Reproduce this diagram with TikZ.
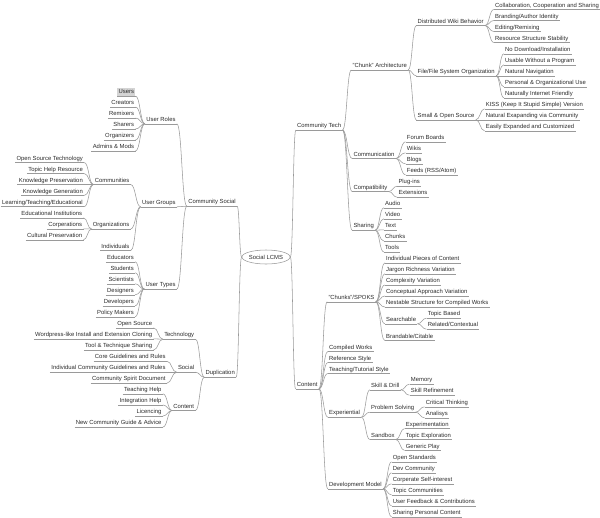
\documentclass[tikz,border=0pt]{standalone}
\usepackage{fontspec}
\setmainfont{Liberation Sans}
\usetikzlibrary{calc,shapes.geometric}
\definecolor{txt}{HTML}{2B2B2B}
\definecolor{lnc}{HTML}{9A9A9A}
\newcommand\myR[4]{\node[rnd] (#1) at ({#2-1.2},{#3+4.5}) {#4};}
\newcommand\myL[4]{\node[lnd] (#1) at ({#2+1.2},{#3+4.5}) {#4};}
\begin{document}
\begin{tikzpicture}[x=1pt,y=-1pt,
  every node/.style={font=\fontsize{5.9}{6}\selectfont, text=txt},
  uline/.style={draw=lnc, line width=0.55pt},
  conn/.style={draw=lnc, line width=0.55pt},
  basend/.style={inner xsep=1.2pt, inner ysep=1pt, text height=4.4pt, text depth=1.25pt,
     append after command={(\tikzlastnode.south west) edge[uline] (\tikzlastnode.south east)}},
  rnd/.style={basend, anchor=south west},
  lnd/.style={basend, anchor=south east},
  mmcurve/.style={to path={let \p1=(\tikztostart), \p2=(\tikztotarget) in
     .. controls ({0.5*\x1+0.5*\x2},\y1) and ({0.5*\x1+0.5*\x2},\y2) .. (\tikztotarget)}},
]
\useasboundingbox (0,0) rectangle (600,517);
% root
\node[ellipse, draw=lnc, line width=0.55pt, minimum width=40pt, minimum height=14pt, inner sep=0pt] (root) at (266,257) {Social LCMS};
% ---------------- right tree
\myR{ct}{297}{125.5}{Community Tech}
\myR{ca}{352.5}{65.5}{"Chunk" Architecture}
\myR{dw}{417.5}{21}{Distributed Wiki Behavior}
\myR{dw1}{495}{5}{Collaboration, Cooperation and Sharing}
\myR{dw2}{495}{16}{Branding/Author Identity}
\myR{dw3}{495}{27}{Editing/Remixing}
\myR{dw4}{495}{38}{Resource Structure Stability}
\myR{fs}{417.5}{71.3}{File/File System Organization}
\myR{fs1}{505}{49.3}{No Download/Installation}
\myR{fs2}{505}{60.3}{Usable Without a Program}
\myR{fs3}{505}{71.3}{Natural Navigation}
\myR{fs4}{505}{82.3}{Personal \& Organizational Use}
\myR{fs5}{505}{93.3}{Naturally Internet Friendly}
\myR{so}{417.5}{115.3}{Small \& Open Source}
\myR{so1}{485.7}{104.3}{KISS (Keep It Stupid Simple) Version}
\myR{so2}{485.7}{115.3}{Natural Exapanding via Community}
\myR{so3}{485.7}{126.3}{Easily Expanded and Customized}
\myR{cm}{353.3}{154}{Communication}
\myR{cm1}{406.7}{137.3}{Forum Boards}
\myR{cm2}{406.7}{148.3}{Wikis}
\myR{cm3}{406.7}{159.3}{Blogs}
\myR{cm4}{406.7}{170.3}{Feeds (RSS/Atom)}
\myR{cp}{353.3}{187}{Compatibility}
\myR{cp1}{398.3}{181.7}{Plug-ins}
\myR{cp2}{398.3}{192.7}{Extensions}
\myR{sh}{353.3}{225.7}{Sharing}
\myR{sh1}{385}{203.3}{Audio}
\myR{sh2}{385}{214.3}{Video}
\myR{sh3}{385}{225.3}{Text}
\myR{sh4}{385}{236.5}{Chunks}
\myR{sh5}{385}{247.5}{Tools}
\myR{co}{296.7}{384.3}{Content}
\myR{ck}{328.3}{297.3}{"Chunks"/SPOKS}
\myR{ck1}{386}{258.3}{Individual Pieces of Content}
\myR{ck2}{386}{269.3}{Jargon Richness Variation}
\myR{ck3}{386}{280.5}{Complexity Variation}
\myR{ck4}{386}{291.5}{Conceptual Approach Variation}
\myR{ck5}{386}{302.5}{Nestable Structure for Compiled Works}
\myR{se}{386}{319.3}{Searchable}
\myR{se1}{427.7}{313.7}{Topic Based}
\myR{se2}{427.7}{324.7}{Related/Contextual}
\myR{ck6}{386}{336}{Brandable/Citable}
\myR{cw}{329}{347}{Compiled Works}
\myR{rs}{329}{358}{Reference Style}
\myR{tt}{329}{369}{Teaching/Tutorial Style}
\myR{ex}{329}{412.7}{Experiential}
\myR{sd}{371}{385.3}{Skill \& Drill}
\myR{sd1}{410.7}{379.7}{Memory}
\myR{sd2}{410.7}{390.7}{Skill Refinement}
\myR{ps}{371}{407.7}{Problem Solving}
\myR{ps1}{425.7}{402.3}{Critical Thinking}
\myR{ps2}{425.7}{413.3}{Analisys}
\myR{sb}{371}{435}{Sandbox}
\myR{sb1}{405.7}{424}{Experimentation}
\myR{sb2}{405.7}{435}{Topic Exploration}
\myR{sb3}{405.7}{446}{Generic Play}
\myR{dm}{329}{484.3}{Development Model}
\myR{dm1}{392.7}{457.3}{Open Standards}
\myR{dm2}{392.7}{468.3}{Dev Community}
\myR{dm3}{392.7}{479.3}{Corperate Self-interest}
\myR{dm4}{392.7}{490.3}{Topic Communities}
\myR{dm5}{392.7}{501.3}{User Feedback \& Contributions}
\myR{dm6}{392.7}{512.3}{Sharing Personal Content}
% ---------------- left tree
\myL{cs}{236}{201.7}{Community Social}
\myL{ur}{175.7}{119.3}{User Roles}
\node[lnd, fill=black!17] (ur1) at ({134.3+1.2},{91.5+4.5}) {Users};
\myL{ur2}{134.3}{102.5}{Creators}
\myL{ur3}{134.3}{113.5}{Remixers}
\myL{ur4}{134.3}{124.5}{Sharers}
\myL{ur5}{134.3}{135.5}{Organizers}
\myL{ur6}{134.3}{146.5}{Admins \& Mods}
\myL{ug}{175.7}{202.3}{User Groups}
\myL{cu}{129.5}{180}{Communities}
\myL{cu1}{83}{158}{Open Source Technology}
\myL{cu2}{83}{169}{Topic Help Resource}
\myL{cu3}{83}{180}{Knowledge Preservation}
\myL{cu4}{83}{191}{Knowledge Generation}
\myL{cu5}{83}{202.2}{Learning/Teaching/Educational}
\myL{or}{129.5}{224.5}{Organizations}
\myL{or1}{82.3}{213.3}{Educational Institutions}
\myL{or2}{82.3}{224.3}{Corperations}
\myL{or3}{82.3}{235.3}{Cultural Preservation}
\myL{iv}{129.5}{246}{Individuals}
\myL{ut}{175.7}{284.5}{User Types}
\myL{ut1}{134}{257.3}{Educators}
\myL{ut2}{134}{268.3}{Students}
\myL{ut3}{134}{279.3}{Scientists}
\myL{ut4}{134}{290.3}{Designers}
\myL{ut5}{134}{301.3}{Developers}
\myL{ut6}{134}{312.3}{Policy Makers}
\myL{du}{235}{372.7}{Duplication}
\myL{te}{194.3}{334.7}{Technology}
\myL{te1}{152.3}{323.3}{Open Source}
\myL{te2}{152.3}{334.3}{Wordpress-like Install and Extension Cloning}
\myL{te3}{152.3}{345.5}{Tool \& Technique Sharing}
\myL{sc}{194.3}{367.7}{Social}
\myL{sc1}{165.7}{356.7}{Core Guidelines and Rules}
\myL{sc2}{165.7}{367.7}{Individual Community Guidelines and Rules}
\myL{sc3}{165.7}{378.7}{Community Spirit Document}
\myL{cn}{194.3}{406}{Content}
\myL{cn1}{161.7}{389.3}{Teaching Help}
\myL{cn2}{161.7}{400.5}{Integration Help}
\myL{cn3}{161.7}{411.5}{Licencing}
\myL{cn4}{161.7}{422.5}{New Community Guide \& Advice}
% ---------------- connectors
\foreach \c in {ct,co} \draw[conn] (root.east) to[mmcurve] (\c.south west);
\foreach \c in {cs,du} \draw[conn] (root.west) to[mmcurve] (\c.south east);
\foreach \p/\c in {ct/ca,ct/cm,ct/cp,ct/sh,ca/dw,ca/fs,ca/so,
  dw/dw1,dw/dw2,dw/dw3,dw/dw4,fs/fs1,fs/fs2,fs/fs3,fs/fs4,fs/fs5,so/so1,so/so2,so/so3,
  cm/cm1,cm/cm2,cm/cm3,cm/cm4,cp/cp1,cp/cp2,sh/sh1,sh/sh2,sh/sh3,sh/sh4,sh/sh5,
  co/ck,co/cw,co/rs,co/tt,co/ex,co/dm,ck/ck1,ck/ck2,ck/ck3,ck/ck4,ck/ck5,ck/se,ck/ck6,
  se/se1,se/se2,ex/sd,ex/ps,ex/sb,sd/sd1,sd/sd2,ps/ps1,ps/ps2,sb/sb1,sb/sb2,sb/sb3,
  dm/dm1,dm/dm2,dm/dm3,dm/dm4,dm/dm5,dm/dm6}
  \draw[conn] (\p.south east) to[mmcurve] (\c.south west);
\foreach \p/\c in {cs/ur,cs/ug,cs/ut,ur/ur1,ur/ur2,ur/ur3,ur/ur4,ur/ur5,ur/ur6,
  ug/cu,ug/or,ug/iv,cu/cu1,cu/cu2,cu/cu3,cu/cu4,cu/cu5,or/or1,or/or2,or/or3,
  ut/ut1,ut/ut2,ut/ut3,ut/ut4,ut/ut5,ut/ut6,du/te,du/sc,du/cn,
  te/te1,te/te2,te/te3,sc/sc1,sc/sc2,sc/sc3,cn/cn1,cn/cn2,cn/cn3,cn/cn4}
  \draw[conn] (\p.south west) to[mmcurve] (\c.south east);
\end{tikzpicture}
\end{document}
